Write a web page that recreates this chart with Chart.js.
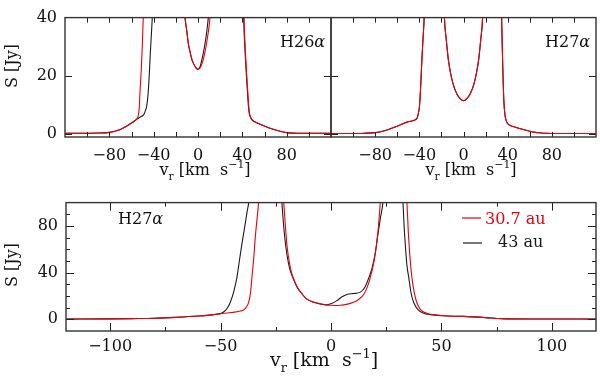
<!DOCTYPE html>
<html>
<head>
<meta charset="utf-8">
<script src="https://cdn.jsdelivr.net/npm/chart.js@4"></script>
<style>
  html, body { margin: 0; padding: 0; background: #fff; }
  #wrap { position: relative; width: 600px; height: 380px; overflow: hidden; }
  canvas { position: absolute; }
</style>
</head>
<body>
<div id="wrap">
  <canvas id="topLeft" width="340" height="190" style="left:0;top:0"></canvas>
  <canvas id="topRight" width="300" height="190" style="left:300px;top:0"></canvas>
  <canvas id="bottom" width="600" height="195" style="left:0;top:185px"></canvas>
</div>
<script>
// series names and panel names
const seriesNames = ['30.7 au', '43 au'];
const panelNames = ['H26\u03b1', 'H27\u03b1', 'H27\u03b1'];
const yTitle = 'S [Jy]';
const xTitle = ['v', 'r', ' [km  s', '\u22121', ']'];

// tick positions and labels
const topXTicks = [-100, -80, -60, -40, -20, 0, 20, 40, 60, 80, 100];
const topXLabels = [-80, -40, 0, 40, 80];
const topYTicks = [0, 20, 40];
const topYLabels = [0, 20, 40];
const bottomXTicks = [-100, -75, -50, -25, 0, 25, 50, 75, 100];
const bottomXLabels = [-100, -50, 0, 50, 100];
const bottomYTicks = [0, 10, 20, 30, 40, 50, 60, 70, 80, 90];
const bottomYLabels = [0, 40, 80];

// H26 alpha, top left (velocity km/s, flux Jy)
const h26VelRed = [-120, -100, -90, -80, -75, -70, -65, -60, -57, -55, -54, -53, -52.3, -51.2, -50.2, -49.4, -48, -45, -35, -25,
  -15, -12, -10, -8.7, -7, -5.7, -4, -2, 0, 2, 4, 6, 8, 10, 10.8, 12, 15, 25, 35, 39,
  40.5, 41.5, 42.8, 44, 45, 45.8, 46.5, 47.5, 49, 52, 56, 60, 65, 70, 75, 80, 90, 100, 120];
const h26FluxRed = [0.3, 0.3, 0.35, 0.6, 1.0, 1.6, 2.6, 3.8, 4.6, 5.3, 6.2, 9, 14.8, 22, 30.9, 40, 58, 100, 160, 150,
  56, 41, 35, 31, 28, 25.8, 24.2, 22.9, 22.3, 22.8, 24.6, 27.6, 31.8, 37, 40, 46, 62, 160, 160, 90,
  60, 40, 28, 20, 14, 9.5, 7, 5.8, 4.8, 4.1, 3.4, 2.8, 2.0, 1.4, 0.9, 0.5, 0.3, 0.3, 0.3];
const h26VelBlack = [-120, -100, -90, -80, -75, -70, -65, -60, -57, -55, -52, -50, -48.5, -47.3, -46.3, -45.2, -44, -43, -41.8, -41,
  -39, -35, -25, -15, -12, -10, -8.7, -7, -5.7, -4, -2, 0, 2, 3.3, 5, 6.3, 8, 9.3, 11, 15,
  25, 35, 39, 40.3, 41.2, 42.5, 43.7, 44.7, 45.5, 46.3, 47.3, 49, 52, 56, 60, 65, 70, 75, 80, 90, 100, 120];
const h26FluxBlack = [0.3, 0.3, 0.35, 0.6, 1.0, 1.6, 2.6, 3.8, 4.6, 5.2, 5.9, 6.3, 7.0, 8.2, 9.6, 13, 20, 28, 36, 42,
  60, 100, 150, 56, 41, 35, 31, 28, 25.8, 24.2, 22.8, 22.2, 23.3, 25.3, 28.2, 31, 35.5, 40, 48, 70,
  160, 160, 90, 60, 40, 28, 20, 14, 9.5, 7, 5.8, 4.8, 4.1, 3.4, 2.8, 2.0, 1.4, 0.9, 0.5, 0.3, 0.3, 0.3];

// H27 alpha, top right (both models lie on top of each other)
const h27TopVel = [-120, -100, -90, -80, -75, -70, -65, -60, -57, -54, -51, -48, -45, -43, -41.7, -40.7, -39.9, -38.7, -37.7, -36.6,
  -35.6, -34, -30, -25, -20, -17.3, -15.5, -13.7, -11.5, -9.2, -6, -3, 0, 3, 6, 9.2, 11.5, 13.7, 15.5, 17.3,
  20, 25, 30, 33, 34.5, 35.5, 36.6, 37.8, 39, 40.4, 42, 45, 50, 55, 60, 65, 70, 75, 80, 90, 100, 120];
const h27TopRed = [0.2, 0.2, 0.3, 0.5, 0.8, 1.3, 2.0, 2.7, 3.2, 3.7, 4.1, 4.4, 4.7, 5.1, 5.8, 7.5, 9.4, 17, 25.5, 33,
  40, 60, 110, 140, 75, 40, 32, 25.5, 20.5, 16.9, 13.8, 12.2, 11.5, 12.2, 13.8, 16.9, 20.5, 25.5, 32, 40,
  75, 140, 110, 60, 40, 24, 11, 6, 4.3, 3.4, 3.0, 2.6, 2.0, 1.5, 1.0, 0.6, 0.4, 0.25, 0.2, 0.2, 0.2, 0.2];
const h27TopBlack = h27TopRed.slice();

// H27 alpha, bottom
const h27VelRed = [-120, -100, -90, -80, -70, -60, -55, -50, -46, -43, -41, -39.6, -38.5, -37.3, -36.5, -35.8, -35, -34.3, -32.8, -31,
  -28, -25, -23, -21.4, -20.5, -19.9, -18.4, -17, -15.4, -13, -10.9, -8, -4.8, -2, 0, 2, 4.2, 7, 10.2, 12.5,
  14.8, 16.5, 17.8, 19.3, 20.5, 21.5, 22.3, 24, 27, 31, 33.3, 34.4, 35, 35.7, 36.5, 37.6, 38.8, 40.3, 42, 44,
  47, 51, 55, 60, 70, 77, 90, 100, 120];
const h27FluxRed = [0.2, 0.4, 0.6, 0.9, 1.7, 2.8, 3.6, 4.8, 5.6, 6.4, 7.1, 8, 10, 14.6, 22, 36, 52, 70, 100, 150,
  250, 230, 150, 100, 76, 62.6, 44, 35, 28, 21.5, 17.3, 14.8, 13.2, 12.3, 12.0, 11.9, 12.1, 12.8, 14.6, 17,
  21.3, 28, 36, 48, 62.6, 80, 99.5, 140, 250, 230, 150, 100, 75, 55, 38, 24, 14.6, 9, 6.3, 4.8,
  3.8, 3.1, 2.7, 2.5, 1.5, 0.6, 0.3, 0.3, 0.2];
const h27VelBlack = [-120, -100, -90, -80, -70, -60, -55, -52, -50, -48.5, -47, -45.6, -44, -42.6, -41.5, -40.3, -39, -38, -37.3, -35,
  -30, -26, -23.7, -22.2, -21.2, -20.3, -18.8, -17, -15.4, -13, -10.9, -8, -4.8, -2, 0, 2.7, 5, 7.2, 10.2, 13.3,
  15.5, 17, 18.6, 20, 21.1, 22.3, 23.5, 25, 28, 30.5, 32.6, 33.1, 33.7, 34.4, 35.2, 36.2, 37.4, 39.5, 41.9, 45,
  51, 60, 70, 77, 90, 100, 120];
const h27FluxBlack = [0.2, 0.4, 0.6, 0.9, 1.7, 2.8, 3.6, 4.3, 5.0, 6.5, 9.5, 14.6, 24, 36, 50, 65, 80, 92, 99.5, 140,
  250, 230, 150, 99.5, 75, 60, 44, 34.5, 27.8, 21.5, 17.3, 14.8, 13.2, 12.4, 13.4, 16, 19.3, 21.3, 22.1, 23.3,
  28, 35, 44, 56, 70.6, 86, 100, 140, 250, 200, 100, 80, 62.6, 46, 36, 23, 14.6, 8, 5.3, 4.0,
  3.0, 2.5, 1.5, 0.6, 0.3, 0.3, 0.2];

const FONT = 'DejaVu Serif';
const RED = '#e8000b';
const BLACK = '#1a1a1a';
const INK = '#111';

function pts(vs, ss) {
  return vs.map((v, i) => ({ x: v, y: ss[i] }));
}

function fmt(v) {
  return v < 0 ? '\u2212' + Math.abs(v) : String(v);
}

// inward tick marks on all four sides, plus the frame
const frameTicks = {
  id: 'frameTicks',
  afterDatasetsDraw(chart, args, o) {
    const { ctx, chartArea: a, scales } = chart;
    ctx.save();
    ctx.strokeStyle = '#222';
    ctx.lineWidth = 1;
    scales.x.ticks.forEach(t => {
      const v = t.value;
      if (v <= scales.x.min || v >= scales.x.max) return;
      const px = Math.round(scales.x.getPixelForValue(v)) + 0.5;
      const len = o.xLabels.includes(v) ? o.xLen[0] : o.xLen[1];
      ctx.beginPath();
      ctx.moveTo(px, a.bottom); ctx.lineTo(px, a.bottom - len);
      ctx.moveTo(px, a.top); ctx.lineTo(px, a.top + len);
      ctx.stroke();
    });
    scales.y.ticks.forEach(t => {
      const v = t.value;
      if (v <= scales.y.min || v >= scales.y.max) return;
      const py = Math.round(scales.y.getPixelForValue(v)) + 0.5;
      const len = o.yLabels.includes(v) ? o.yLen[0] : o.yLen[1];
      ctx.beginPath();
      ctx.moveTo(a.left, py); ctx.lineTo(a.left + len, py);
      ctx.moveTo(a.right, py); ctx.lineTo(a.right - len, py);
      ctx.stroke();
    });
    ctx.lineWidth = 1.4;
    ctx.strokeStyle = '#333';
    ctx.strokeRect(a.left, a.top, a.right - a.left, a.bottom - a.top);
    ctx.restore();
  }
};

// titles, panel names and legend
const annotate = {
  id: 'annotate',
  afterDraw(chart, args, o) {
    const ctx = chart.ctx;
    ctx.save();
    ctx.fillStyle = INK;
    ctx.textBaseline = 'alphabetic';
    ctx.textAlign = 'left';

    if (o.name) {
      const base = o.name.text.slice(0, -1);
      ctx.font = '16px "' + FONT + '"';
      ctx.fillText(base, o.name.x, o.name.y);
      const w = ctx.measureText(base).width;
      ctx.font = 'italic 16px "' + FONT + '"';
      ctx.fillText(o.name.text.slice(-1), o.name.x + w, o.name.y);
    }

    if (o.yTitle) {
      ctx.save();
      ctx.translate(o.yTitle.x, o.yTitle.y);
      ctx.rotate(-Math.PI / 2);
      ctx.font = '16px "' + FONT + '"';
      ctx.textAlign = 'center';
      ctx.textBaseline = 'middle';
      ctx.fillText(yTitle, 0, 0);
      ctx.restore();
    }

    if (o.xTitle) {
      const s = o.xTitle.size;
      const parts = [
        { t: xTitle[0], f: s, dy: 0 },
        { t: xTitle[1], f: s * 0.68, dy: s * 0.3 },
        { t: xTitle[2], f: s, dy: 0 },
        { t: xTitle[3], f: s * 0.68, dy: -s * 0.42 },
        { t: xTitle[4], f: s, dy: 0 }
      ];
      let total = 0;
      parts.forEach(p => {
        ctx.font = p.f + 'px "' + FONT + '"';
        p.w = ctx.measureText(p.t).width;
        total += p.w;
      });
      let x = o.xTitle.x - total / 2;
      parts.forEach(p => {
        ctx.font = p.f + 'px "' + FONT + '"';
        ctx.fillText(p.t, x, o.xTitle.y + p.dy);
        x += p.w;
      });
    }

    if (o.legend) {
      ctx.font = '16px "' + FONT + '"';
      o.legend.forEach((item, i) => {
        ctx.strokeStyle = item.color;
        ctx.lineWidth = 1.2;
        ctx.beginPath();
        ctx.moveTo(item.x0, item.ly);
        ctx.lineTo(item.x1, item.ly);
        ctx.stroke();
        ctx.fillStyle = item.color;
        ctx.fillText(seriesNames[i], item.tx, item.ty);
      });
    }
    ctx.restore();
  }
};

function makeChart(id, cfg) {
  const tickFont = { family: FONT, size: 16 };
  return new Chart(document.getElementById(id), {
    type: 'line',
    data: {
      datasets: [
        { label: seriesNames[0], data: pts(cfg.redV, cfg.redS), borderColor: RED },
        { label: seriesNames[1], data: pts(cfg.blackV, cfg.blackS), borderColor: BLACK }
      ]
    },
    options: {
      responsive: false,
      animation: false,
      layout: { padding: { left: 0, top: cfg.padTop, right: cfg.padRight, bottom: 0 } },
      datasets: {
        line: {
          borderWidth: 1.1,
          pointRadius: 0,
          fill: false,
          cubicInterpolationMode: 'monotone'
        }
      },
      scales: {
        x: {
          type: 'linear',
          min: -120,
          max: 120,
          grid: { display: false, drawTicks: false },
          border: { display: false },
          afterBuildTicks: s => { s.ticks = cfg.xTicks.map(v => ({ value: v })); },
          ticks: {
            autoSkip: false,
            maxRotation: 0,
            padding: cfg.xPad,
            color: INK,
            font: tickFont,
            callback: v => cfg.xLabels.includes(v) ? fmt(v) : ''
          },
          afterFit: s => { s.height = cfg.xHeight; }
        },
        y: {
          type: 'linear',
          min: cfg.yMin,
          max: cfg.yMax,
          grid: { display: false, drawTicks: false },
          border: { display: false },
          afterBuildTicks: s => { s.ticks = cfg.yTicks.map(v => ({ value: v })); },
          ticks: {
            autoSkip: false,
            padding: 8,
            color: INK,
            font: tickFont,
            callback: v => cfg.yLabels.includes(v) ? fmt(v) : ''
          },
          afterFit: s => { s.width = cfg.yWidth; }
        }
      },
      plugins: {
        legend: { display: false },
        tooltip: { enabled: false },
        frameTicks: {
          xLabels: cfg.xLabels, yLabels: cfg.yTickMajor,
          xLen: cfg.xLen, yLen: cfg.yLen
        },
        annotate: cfg.annotate
      }
    },
    plugins: [frameTicks, annotate]
  });
}

makeChart('topLeft', {
  redV: h26VelRed, redS: h26FluxRed, blackV: h26VelBlack, blackS: h26FluxBlack,
  padTop: 10, padRight: 9, xHeight: 53, yWidth: 65, xPad: 9,
  xTicks: topXTicks, xLabels: topXLabels, xLen: [5, 5],
  yMin: -1, yMax: 40, yTicks: topYTicks, yLabels: topYLabels, yTickMajor: topYLabels, yLen: [7, 4],
  annotate: {
    name: { text: panelNames[0], x: 280, y: 47 },
    yTitle: { x: 13, y: 66 },
    xTitle: { x: 205, y: 175, size: 16 }
  }
});

makeChart('topRight', {
  redV: h27TopVel, redS: h27TopRed, blackV: h27TopVel, blackS: h27TopBlack,
  padTop: 10, padRight: 4, xHeight: 53, yWidth: 31, xPad: 9,
  xTicks: topXTicks, xLabels: topXLabels, xLen: [5, 5],
  yMin: -1, yMax: 40, yTicks: topYTicks, yLabels: [], yTickMajor: topYLabels, yLen: [7, 4],
  annotate: {
    name: { text: panelNames[1], x: 245, y: 47 },
    xTitle: { x: 171, y: 175, size: 16 }
  }
});

makeChart('bottom', {
  redV: h27VelRed, redS: h27FluxRed, blackV: h27VelBlack, blackS: h27FluxBlack,
  padTop: 9, padRight: 4, xHeight: 49, yWidth: 66, xPad: 6,
  xTicks: bottomXTicks, xLabels: bottomXLabels, xLen: [8, 4],
  yMin: -10, yMax: 100, yTicks: bottomYTicks, yLabels: bottomYLabels, yTickMajor: bottomYLabels, yLen: [8, 4],
  annotate: {
    name: { text: panelNames[2], x: 118, y: 39 },
    yTitle: { x: 13, y: 80 },
    xTitle: { x: 324, y: 181, size: 19 },
    legend: [
      { color: RED, x0: 462, x1: 481, ly: 33, tx: 485, ty: 39 },
      { color: BLACK, x0: 463, x1: 482, ly: 58, tx: 498, ty: 62 }
    ]
  }
});
</script>
</body>
</html>
